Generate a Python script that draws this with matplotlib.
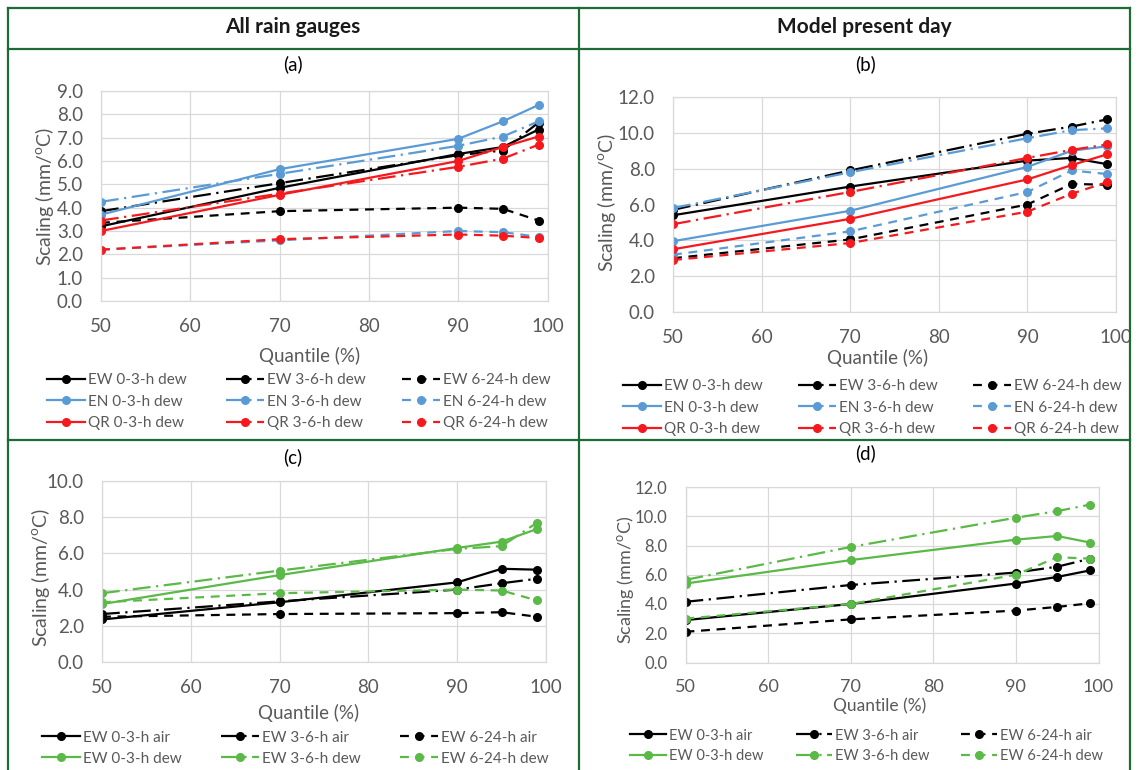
import matplotlib
matplotlib.use("Agg")
import matplotlib.pyplot as plt
from matplotlib.lines import Line2D

plt.rcParams["font.family"] = ["Lato", "DejaVu Sans"]
plt.rcParams["mathtext.fontset"] = "custom"
plt.rcParams["mathtext.rm"] = "Lato"

W, H = 1138, 770

quantiles = [50, 70, 90, 95, 99]
durations = ["0-3-h", "3-6-h", "6-24-h"]

# (a) all rain gauges, dew point scaling
a_ew = [[3.2, 4.85, 6.3, 6.6, 7.35],
        [3.85, 5.05, 6.25, 6.45, 7.65],
        [3.35, 3.85, 4.0, 3.95, 3.45]]
a_en = [[3.7, 5.65, 6.95, 7.7, 8.4],
        [4.25, 5.45, 6.65, 7.05, 7.7],
        [2.2, 2.6, 3.0, 2.95, 2.75]]
a_qr = [[3.0, 4.55, 6.0, 6.6, 7.05],
        [3.45, 4.6, 5.75, 6.1, 6.7],
        [2.2, 2.65, 2.85, 2.8, 2.7]]

# (b) model present day
b_ew = [[5.4, 7.0, 8.45, 8.6, 8.25],
        [5.7, 7.9, 9.95, 10.35, 10.75],
        [3.0, 4.05, 6.0, 7.15, 7.1]]
b_en = [[3.95, 5.65, 8.1, 9.0, 9.25],
        [5.8, 7.8, 9.7, 10.15, 10.25],
        [3.2, 4.5, 6.7, 7.9, 7.7]]
b_qr = [[3.5, 5.2, 7.4, 8.2, 8.8],
        [4.9, 6.7, 8.6, 9.05, 9.35],
        [2.9, 3.85, 5.6, 6.6, 7.25]]

# (c) EW gauges, air vs dew
c_air = [[2.35, 3.3, 4.4, 5.15, 5.1],
         [2.65, 3.35, 4.0, 4.35, 4.6],
         [2.5, 2.65, 2.7, 2.75, 2.5]]
c_dew = [[3.2, 4.8, 6.3, 6.65, 7.35],
         [3.8, 5.05, 6.25, 6.4, 7.7],
         [3.3, 3.8, 4.0, 3.95, 3.4]]

# (d) model, air vs dew
d_air = [[2.9, 4.0, 5.4, 5.85, 6.3],
         [4.15, 5.3, 6.15, 6.55, 7.1],
         [2.1, 2.95, 3.55, 3.8, 4.05]]
d_dew = [[5.4, 7.0, 8.4, 8.65, 8.2],
         [5.65, 7.9, 9.9, 10.35, 10.8],
         [3.0, 4.0, 6.0, 7.2, 7.1]]

BLACK = "#000000"
BLUE = "#5b9bd5"
RED = "#f5191e"
GREEN = "#5ab947"
GREY = "#595959"
BORDER = "#1d6b36"
styles = ["-", (0, (8, 2.5, 1, 2.5)), (0, (4, 3))]


def fx(x):
    return x / W


def fy(y):
    return 1 - y / H


def make_axes(fig, x0, x1, ytop, y0, ymax, ystep, tick_fs=13.5, xtick_fs=13.5):
    ax = fig.add_axes([fx(x0), fy(y0), (x1 - x0) / W, (y0 - ytop) / H])
    ax.set_xlim(50, 100)
    ax.set_ylim(0, ymax)
    ax.set_xticks(range(50, 101, 10))
    n = int(ymax / ystep) + 1
    ax.set_yticks([v * ystep for v in range(n)])
    ax.set_yticklabels([f"{v * ystep:.1f}" for v in range(n)])
    ax.grid(True, color="#d9d9d9", lw=0.9)
    ax.set_axisbelow(True)
    for s in ax.spines.values():
        s.set_color("#d9d9d9")
        s.set_linewidth(0.9)
    ax.tick_params(axis="y", length=0, pad=13, labelsize=tick_fs, labelcolor=GREY)
    ax.tick_params(axis="x", length=0, pad=12, labelsize=xtick_fs, labelcolor=GREY)
    return ax


def draw_group(ax, series, color, name, kind):
    handles = []
    for i, vals in enumerate(series):
        (ln,) = ax.plot(quantiles, vals, color=color, ls=styles[i], lw=1.6,
                        marker="o", ms=5.5, label=f"{name} {durations[i]} {kind}")
        handles.append(ln)
    return handles


def add_legends(fig, groups, col_x, row_y0, fs=11):
    # one legend per column, Excel-style row ordering
    for j, x in enumerate(col_x):
        hs = [g[j] for g in groups]
        fig.legend(hs, [h.get_label() for h in hs], loc="upper left",
                   bbox_to_anchor=(fx(x), fy(row_y0)), frameon=False,
                   borderpad=0, borderaxespad=0, handlelength=2.5,
                   handletextpad=0.2, labelspacing=0.48, fontsize=fs,
                   labelcolor=GREY, numpoints=1)


fig = plt.figure(figsize=(W / 100, H / 100), dpi=100)

# table borders
for y in [8, 49, 440]:
    fig.add_artist(Line2D([fx(8), fx(1130)], [fy(y), fy(y)], color=BORDER, lw=1.6))
for x in [8, 579, 1130]:
    fig.add_artist(Line2D([fx(x), fx(x)], [fy(8), fy(770)], color=BORDER, lw=1.6))

fig.text(fx(293), fy(27), "All rain gauges", ha="center", va="center",
         fontsize=15, fontweight="bold", color="#1a1a1a")
fig.text(fx(864), fy(27), "Model present day", ha="center", va="center",
         fontsize=15, fontweight="bold", color="#1a1a1a")

ylab = "Scaling (mm/$^{\\mathregular{o}}$C)"

# (a)
ax = make_axes(fig, 101, 547.5, 91, 301, 9, 1)
ga = [draw_group(ax, a_ew, BLACK, "EW", "dew"),
      draw_group(ax, a_en, BLUE, "EN", "dew"),
      draw_group(ax, a_qr, RED, "QR", "dew")]
fig.text(fx(293), fy(64), "(a)", ha="center", va="center", fontsize=13.5)
fig.text(fx(310), fy(356), "Quantile (%)", ha="center", va="center", fontsize=13.5, color=GREY)
fig.text(fx(45), fy(197), ylab, ha="center", va="center", rotation=90, fontsize=14, color=GREY)
add_legends(fig, ga, [47, 226, 402], 373.5)

# (b)
ax = make_axes(fig, 673, 1116, 97, 312, 12, 2)
gb = [draw_group(ax, b_ew, BLACK, "EW", "dew"),
      draw_group(ax, b_en, BLUE, "EN", "dew"),
      draw_group(ax, b_qr, RED, "QR", "dew")]
fig.text(fx(866), fy(64), "(b)", ha="center", va="center", fontsize=13.5)
fig.text(fx(878), fy(358), "Quantile (%)", ha="center", va="center", fontsize=13.5, color=GREY)
fig.text(fx(606), fy(203), ylab, ha="center", va="center", rotation=90, fontsize=14, color=GREY)
add_legends(fig, gb, [623, 798, 973], 379.5)

# (c)
ax = make_axes(fig, 102, 546, 481, 662, 10, 2)
gc = [draw_group(ax, c_air, BLACK, "EW", "air"),
      draw_group(ax, c_dew, GREEN, "EW", "dew")]
fig.text(fx(293), fy(457), "(c)", ha="center", va="center", fontsize=13.5)
fig.text(fx(309), fy(713), "Quantile (%)", ha="center", va="center", fontsize=13.5, color=GREY)
fig.text(fx(40), fy(578), ylab, ha="center", va="center", rotation=90, fontsize=14, color=GREY)
add_legends(fig, gc, [42, 221, 400], 730.5)

# (d)
ax = make_axes(fig, 685.5, 1098.5, 487, 662.5, 12, 2, tick_fs=12, xtick_fs=13)
gd = [draw_group(ax, d_air, BLACK, "EW", "air"),
      draw_group(ax, d_dew, GREEN, "EW", "dew")]
fig.text(fx(866), fy(453), "(d)", ha="center", va="center", fontsize=13.5)
fig.text(fx(880), fy(706), "Quantile (%)", ha="center", va="center", fontsize=12.5, color=GREY)
fig.text(fx(625), fy(580), ylab, ha="center", va="center", rotation=90, fontsize=13, color=GREY)
add_legends(fig, gd, [630, 796, 961], 728.5, fs=10.5)

fig.savefig("out.png", dpi=100)
